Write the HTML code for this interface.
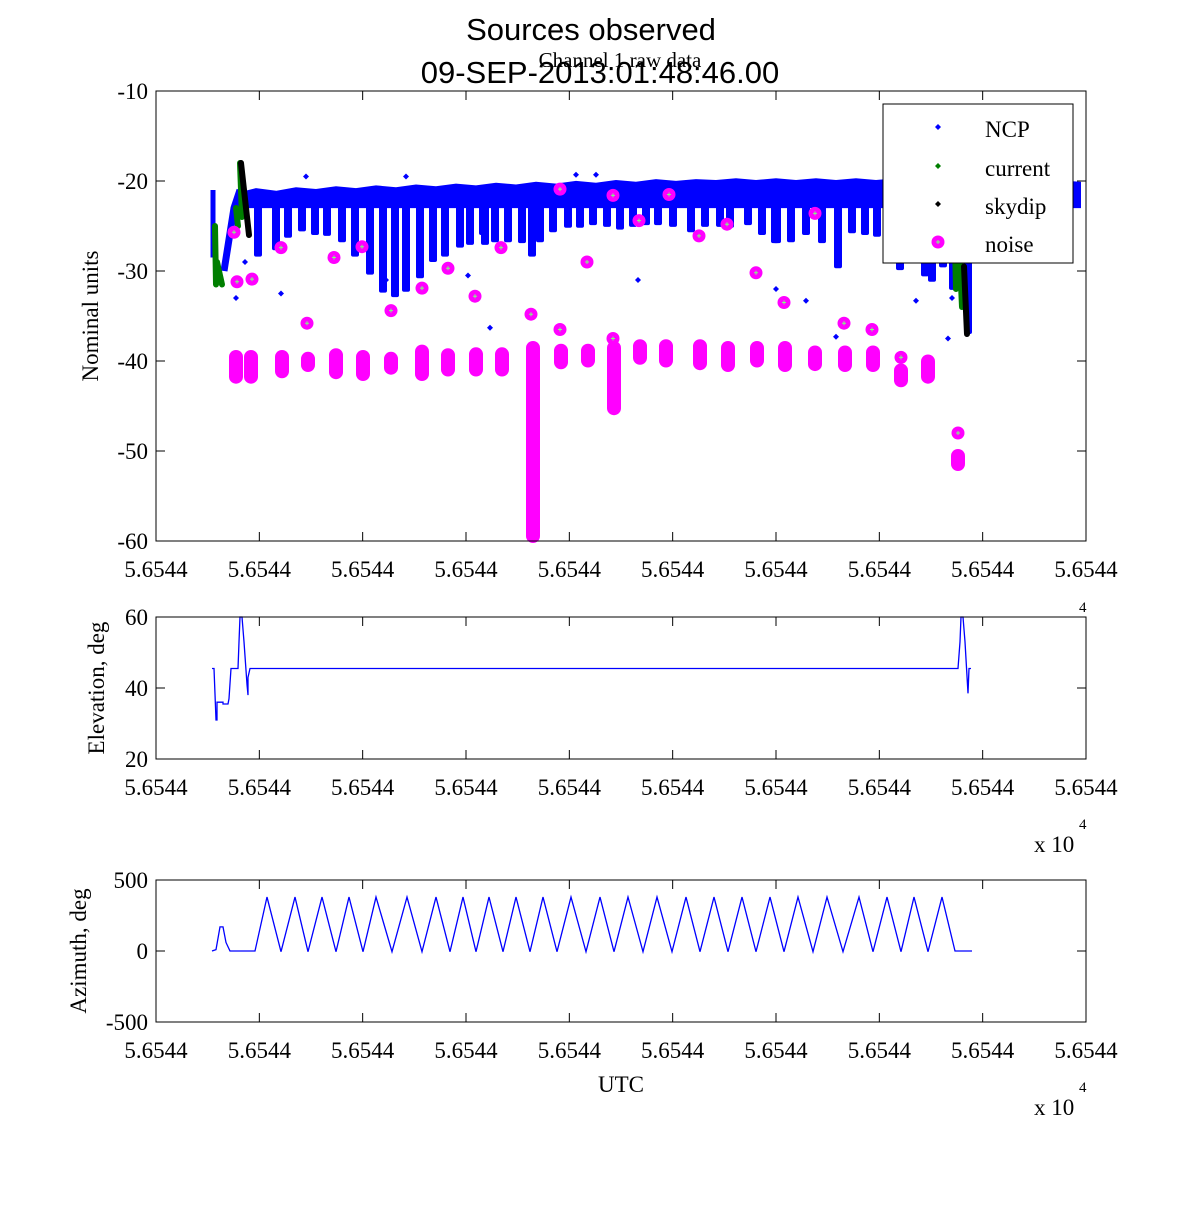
<!DOCTYPE html>
<html><head><meta charset="utf-8"><title>Sources observed</title>
<style>
body{margin:0;background:#fff;}
svg text{font-family:"Liberation Serif",serif;}
.sans{font-family:"Liberation Sans",sans-serif !important;}
</style></head>
<body>
<svg id="chart" width="1200" height="1200" viewBox="0 0 1200 1200" xmlns="http://www.w3.org/2000/svg">
<rect width="1200" height="1200" fill="#fff"/>
<text class="sans" x="591" y="40" font-size="31" text-anchor="middle">Sources observed</text>
<text x="620" y="67" font-size="21" text-anchor="middle">Channel 1 raw data</text>
<text class="sans" x="600" y="83" font-size="31" text-anchor="middle">09-SEP-2013:01:48:46.00</text>
<g id="top"></g>
<g id="elev"></g>
<g id="azim"></g>
</svg>
<script>
const xTickLabels = ["5.6544","5.6544","5.6544","5.6544","5.6544","5.6544","5.6544","5.6544","5.6544","5.6544"];
const topYTicks = [-10,-20,-30,-40,-50,-60];
const bandX = [82,100,120,140,160,180,200,220,240,260,280,300,320,340,360,380,400,420,440,460,480,500,520,540,560,580,600,620,640,660,680,700,720,740,760,780,800,820,840,860,880,900,924];
const bandTop = [-21.4,-20.9,-21.2,-20.8,-21,-20.7,-20.9,-20.6,-20.8,-20.5,-20.7,-20.4,-20.6,-20.3,-20.5,-20.2,-20.4,-20.1,-20.3,-20,-20.2,-19.9,-20.1,-19.9,-20,-19.8,-20,-19.8,-20,-19.8,-20,-19.8,-20,-19.8,-20,-19.9,-20,-19.9,-20.1,-19.9,-20.1,-20,-20.2];
const bandBottom = -22.9;
const spikeX = [102,120,132,146,159,171,186,199,214,227,239,250,264,277,289,304,314,327,329,339,352,366,376,384,397,412,424,437,451,464,477,490,502,517,535,549,564,574,592,606,619,621,635,650,666,682,696,709,721,744,769,776,787,797,812];
const spikeDepth = [-28.4,-27.7,-26.3,-25.6,-26,-26.1,-26.8,-28.4,-30.4,-32.4,-32.9,-32.3,-30.8,-29,-28.4,-27.4,-27.1,-26,-27.1,-26.8,-26.8,-26.9,-28.4,-26.8,-25.7,-25.2,-25.2,-24.9,-25.1,-25.4,-25.1,-24.9,-24.9,-25.1,-25.7,-25.1,-25.1,-25.2,-24.9,-26,-26.9,-26.9,-26.8,-26,-26.9,-29.7,-25.8,-26,-26.2,-29.9,-30.6,-31.2,-29.6,-32.1,-37];
const ncpDotX = [80,89,125,150,250,230,312,334,482,420,440,650,620,680,760,792,796];
const ncpDotY = [-33,-29,-32.5,-19.5,-19.5,-31,-30.5,-36.3,-31,-19.3,-19.3,-33.3,-32,-37.3,-33.3,-37.5,-33];
const currentSegX0 = [59,61,80,84,799,804];
const currentSegY0 = [-25,-29,-23,-18,-27,-29];
const currentSegX1 = [60,66,82,86,800,806];
const currentSegY1 = [-31.5,-31.5,-25,-24,-32,-34];
const skydipSegX0 = [85,808];
const skydipSegY0 = [-18,-29.5];
const skydipSegX1 = [93,811];
const skydipSegY1 = [-26,-37];
const noiseClusterX = [80,95,126,152,180,207,235,266,292,320,346,377,405,432,458,484,510,544,572,601,629,659,689,717,745,772,802];
const noiseClusterTop = [-39,-39,-39,-39.2,-38.8,-39,-39.2,-38.4,-38.8,-38.7,-38.7,-38,-38.3,-38.3,-38,-37.8,-37.8,-37.8,-38,-38,-38,-38.5,-38.5,-38.5,-40.5,-39.5,-50];
const noiseClusterBottom = [-42.3,-42.3,-41.7,-41,-41.8,-42,-41.3,-42,-41.5,-41.5,-41.5,-60,-40.7,-40.5,-45.8,-40.2,-40.5,-40.8,-41,-40.5,-41,-40.9,-41,-41,-42.7,-42.3,-52];
const noiseX = [78,81,96,125,151,178,206,235,266,292,319,345,375,404,404,431,457,457,483,513,543,571,600,628,659,688,716,745,802];
const noiseY = [-25.7,-31.2,-30.9,-27.4,-35.8,-28.5,-27.3,-34.4,-31.9,-29.7,-32.8,-27.4,-34.8,-20.9,-36.5,-29,-21.6,-37.5,-24.4,-21.5,-26.1,-24.8,-30.2,-33.5,-23.6,-35.8,-36.5,-39.6,-48];
const elevYTicks = [60,40,20];
const elevX = [56,58,60,61,61,67,67,72,73,75,82,83,84,86,88,91,92,92,94,802,804,805,807,809,812,813,815];
const elevY = [45.5,45.5,31,31,36,36,35.5,35.5,37,45.5,45.5,53,60,60,53,41,38,43,45.5,45.5,53,60,60,53,38.5,45.5,45.5];
const azYTicks = [500,0,-500];
const azX = [56,60,64,67,70,74,99,111,125,139,152,166,180,193,207,220,236,251,266,280,294,307,320,333,347,360,374,387,401,415,430,444,458,472,487,501,516,530,544,558,572,586,600,614,628,642,657,671,687,703,717,731,745,758,772,786,799,816];
const azY = [0,10,170,170,60,0,0,380,-5,380,-5,380,-5,380,-5,380,-5,380,-5,380,-5,380,-5,380,-5,380,-5,380,-5,380,-5,380,-5,380,-5,380,-5,380,-5,380,-5,380,-5,380,-5,380,-5,380,-5,380,-5,380,-5,380,-5,380,0,0];

const NS = "http://www.w3.org/2000/svg";
function mk(parent, tag, attrs){const e=document.createElementNS(NS,tag);for(const k in attrs)e.setAttribute(k,attrs[k]);parent.appendChild(e);return e;}
const X0=156, X1=1086, XMAX=930;
function xs(v){return X0+(v/XMAX)*(X1-X0);}
function makeY(top,bottom,vTop,vBot){return v=>top+(vTop-v)/(vTop-vBot)*(bottom-top);}

function axes(g, top, bottom, yTicks, yScale, yLabel, labelX, name){
  const ax=mk(g,"rect",{x:X0,y:top,width:X1-X0,height:bottom-top,fill:"none",stroke:"#000","stroke-width":1});
  
  
  for(let i=0;i<xTickLabels.length;i++){
    const px=X0+i*(X1-X0)/(xTickLabels.length-1);
    mk(g,"line",{x1:px,y1:bottom,x2:px,y2:bottom-9,stroke:"#000"});
    mk(g,"line",{x1:px,y1:top,x2:px,y2:top+9,stroke:"#000"});
    const t=mk(g,"text",{x:px,y:bottom+36,"font-size":23,"text-anchor":"middle"});
    t.textContent=xTickLabels[i];
    
    
  }
  for(const v of yTicks){
    const py=yScale(v);
    mk(g,"line",{x1:X0,y1:py,x2:X0+9,y2:py,stroke:"#000"});
    mk(g,"line",{x1:X1,y1:py,x2:X1-9,y2:py,stroke:"#000"});
    const t=mk(g,"text",{x:X0-8,y:py+8,"font-size":23,"text-anchor":"end"});
    t.textContent=v;
    
    
  }
  const l=mk(g,"text",{x:labelX,y:(top+bottom)/2,"font-size":23,"text-anchor":"middle",transform:`rotate(-90 ${labelX} ${(top+bottom)/2})`});
  l.textContent=yLabel;
  
  
}
function dot(g,x,y,c){return mk(g,"path",{d:`M${x-3},${y}L${x},${y-3}L${x+3},${y}L${x},${y+3}Z`,fill:c});}
function noiseMarker(g,x,y){
  mk(g,"circle",{cx:x,cy:y,r:6.5,fill:"#ff00ff"});
  mk(g,"path",{d:`M${x-2},${y}H${x+2}M${x},${y-2}V${y+2}`,stroke:"#7fff7f","stroke-width":1});
}

(function(){
  const g=document.getElementById("top");
  const T=91,B=541, y=makeY(T,B,-10,-60);
  let d=`M${xs(bandX[0])},${y(bandBottom)}`;
  for(let i=0;i<bandX.length;i++) d+=`L${xs(bandX[i])},${y(bandTop[i])}`;
  d+=`L${xs(bandX[bandX.length-1])},${y(bandBottom)}Z`;
  const band=mk(g,"path",{d:d,fill:"#0000ff",stroke:"#0000ff","stroke-width":2});
  
  
  mk(g,"path",{d:`M${xs(57)},${y(-21)}V${y(-28.5)}`,stroke:"#0000ff","stroke-width":5});
  mk(g,"path",{d:`M${xs(68)},${y(-30)}L${xs(78)},${y(-23)}L${xs(84)},${y(-21)}`,stroke:"#0000ff","stroke-width":7});
  for(let i=0;i<spikeX.length;i++){
    const top=y(-21.5), bot=y(spikeDepth[i]);
    const r=mk(g,"rect",{x:xs(spikeX[i])-4,y:top,width:8,height:bot-top,rx:2,fill:"#0000ff"});
    
    
  }
  for(let i=0;i<ncpDotX.length;i++){
    const p=dot(g,xs(ncpDotX[i]),y(ncpDotY[i]),"#0000ff");
    
    
  }
  for(let i=0;i<currentSegX0.length;i++){
    const s=mk(g,"path",{d:`M${xs(currentSegX0[i])},${y(currentSegY0[i])}L${xs(currentSegX1[i])},${y(currentSegY1[i])}`,stroke:"#007f00","stroke-width":6,"stroke-linecap":"round"});
    
    
  }
  for(let i=0;i<skydipSegX0.length;i++){
    const s=mk(g,"path",{d:`M${xs(skydipSegX0[i])},${y(skydipSegY0[i])}L${xs(skydipSegX1[i])},${y(skydipSegY1[i])}`,stroke:"#000","stroke-width":6,"stroke-linecap":"round"});
    
    
  }
  for(let i=0;i<noiseClusterX.length;i++){
    const t=y(noiseClusterTop[i]), b=y(noiseClusterBottom[i]);
    const c=mk(g,"rect",{x:xs(noiseClusterX[i])-7,y:t-2,width:14,height:b-t+4,rx:7,fill:"#ff00ff"});
    
    
  }
  for(let i=0;i<noiseX.length;i++) noiseMarker(g,xs(noiseX[i]),y(noiseY[i]));
  axes(g,T,B,topYTicks,y,"Nominal units",98,"raw");
  const lg=mk(g,"g",{});
  
  
  mk(lg,"rect",{x:883,y:104,width:190,height:159,fill:"#fff",stroke:"#000"});
  const names=["NCP","current","skydip","noise"], cols=["#0000ff","#007f00","#000","#ff00ff"], ly=[130,169,207,245];
  for(let i=0;i<4;i++){
    if(i<3) dot(lg,938,ly[i]-3,cols[i]); else noiseMarker(lg,938,ly[i]-3);
    const t=mk(lg,"text",{x:985,y:ly[i]+7,"font-size":23});
    t.textContent=names[i];
    
    
  }
})();

(function(){
  const g=document.getElementById("elev");
  const T=617,B=759,y=makeY(T,B,60,20);
  let d="";
  for(let i=0;i<elevX.length;i++) d+=(i?"L":"M")+xs(elevX[i])+","+y(elevY[i]);
  const p=mk(g,"path",{d:d,fill:"none",stroke:"#0000ff","stroke-width":1.3});
  
  
  axes(g,T,B,elevYTicks,y,"Elevation, deg",104,"elevation");
  const e=mk(g,"text",{x:1034,y:852,"font-size":23}); e.textContent="x 10";
  
  
  const e2=mk(g,"text",{x:1079,y:612,"font-size":15}); e2.textContent="4";
  const e3=mk(g,"text",{x:1079,y:829,"font-size":15}); e3.textContent="4";
})();

(function(){
  const g=document.getElementById("azim");
  const T=880,B=1022,y=makeY(T,B,500,-500);
  let d="";
  for(let i=0;i<azX.length;i++) d+=(i?"L":"M")+xs(azX[i])+","+y(azY[i]);
  const p=mk(g,"path",{d:d,fill:"none",stroke:"#0000ff","stroke-width":1.3});
  
  
  axes(g,T,B,azYTicks,y,"Azimuth, deg",86,"azimuth");
  const t=mk(g,"text",{x:621,y:1092,"font-size":23,"text-anchor":"middle"}); t.textContent="UTC";
  
  
  const e=mk(g,"text",{x:1034,y:1115,"font-size":23}); e.textContent="x 10";
  
  
  const e2=mk(g,"text",{x:1079,y:1092,"font-size":15}); e2.textContent="4";
})();
</script>
</body></html>
